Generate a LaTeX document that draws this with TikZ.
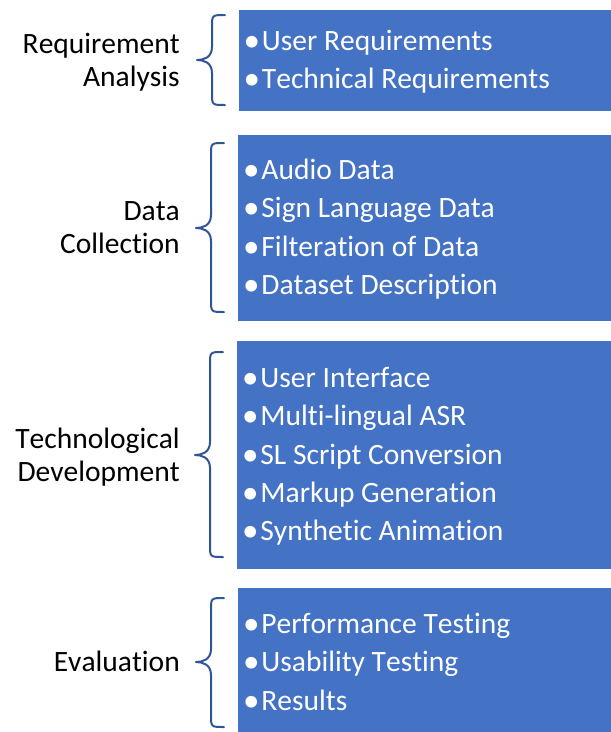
\documentclass[tikz,border=0pt]{standalone}
\usepackage{fontspec}
\setmainfont{Carlito}[Ligatures=NoCommon,Kerning=Off]
\definecolor{boxblue}{HTML}{4472C4}
\definecolor{braceblue}{HTML}{2F5597}
\newcommand{\itm}[1]{\raisebox{-1pt}{\scalebox{1.12}{•}}\hspace{1.8pt}#1}
\begin{document}
\begin{tikzpicture}[x=1pt,y=-1pt,
  phasebox/.style={fill=boxblue,draw=none},
  itemtext/.style={anchor=base west,inner sep=0pt,text=white,font=\fontsize{29.5}{33}\selectfont},
  phaselabel/.style={anchor=base east,inner sep=0pt,text=black,font=\fontsize{29.5}{33}\selectfont},
  bracepath/.style={draw=braceblue,line width=2pt,line cap=round,line join=round}
]
\useasboundingbox (0,0) rectangle (611,732);

% phase boxes
\path[phasebox] (239,10) rectangle (611,111);
\path[phasebox] (238,135) rectangle (611,321);
\path[phasebox] (237,341) rectangle (611,569);
\path[phasebox] (238,588) rectangle (611,732);

% left braces: #1 right x, #2 top, #3 tip y, #4 bottom
\newcommand{\phasebrace}[4]{%
  \draw[bracepath] (#1,#2) .. controls (#1-13,#2) .. (#1-13,#2+12)
    -- (#1-13,#3-13) .. controls (#1-13,#3-2) and (#1-22,#3) .. (#1-28,#3)
    .. controls (#1-22,#3) and (#1-13,#3+2) .. (#1-13,#3+13)
    -- (#1-13,#4-12) .. controls (#1-13,#4) .. (#1,#4);}
\phasebrace{225}{15}{60}{105}
\phasebrace{224}{143}{228}{312}
\phasebrace{223}{352}{455}{557}
\phasebrace{224}{598}{662}{727}

% phase names
\node[phaselabel] (req1) at (180,53) {Requirement};
\node[phaselabel] (req2) at (180,86) {Analysis};
\node[phaselabel] (dat1) at (180,220) {Data};
\node[phaselabel] (dat2) at (180,253) {Collection};
\node[phaselabel] (tec1) at (180,448) {Technological};
\node[phaselabel] (tec2) at (180,481) {Development};
\node[phaselabel] (eva1) at (180,671) {Evaluation};

% items of each phase
\node[itemtext] (a1) at (243.5,50.5) {\itm{User Requirements}};
\node[itemtext] (a2) at (243.5,88.5) {\itm{Technical Requirements}};

\node[itemtext] (b1) at (243,179.5) {\itm{Audio Data}};
\node[itemtext] (b2) at (243,217.8) {\itm{Sign Language Data}};
\node[itemtext] (b3) at (243,256.1) {\itm{Filteration of Data}};
\node[itemtext] (b4) at (243,294.4) {\itm{Dataset Description}};

\node[itemtext] (c1) at (242,387.5) {\itm{User Interface}};
\node[itemtext] (c2) at (242,425.8) {\itm{Multi-lingual ASR}};
\node[itemtext] (c3) at (242,464.1) {\itm{SL Script Conversion}};
\node[itemtext] (c4) at (242,502.4) {\itm{Markup Generation}};
\node[itemtext] (c5) at (242,540.7) {\itm{Synthetic Animation}};

\node[itemtext] (d1) at (243,633.5) {\itm{Performance Testing}};
\node[itemtext] (d2) at (243,671.8) {\itm{Usability Testing}};
\node[itemtext] (d3) at (243,710.1) {\itm{Results}};
\end{tikzpicture}
\end{document}
